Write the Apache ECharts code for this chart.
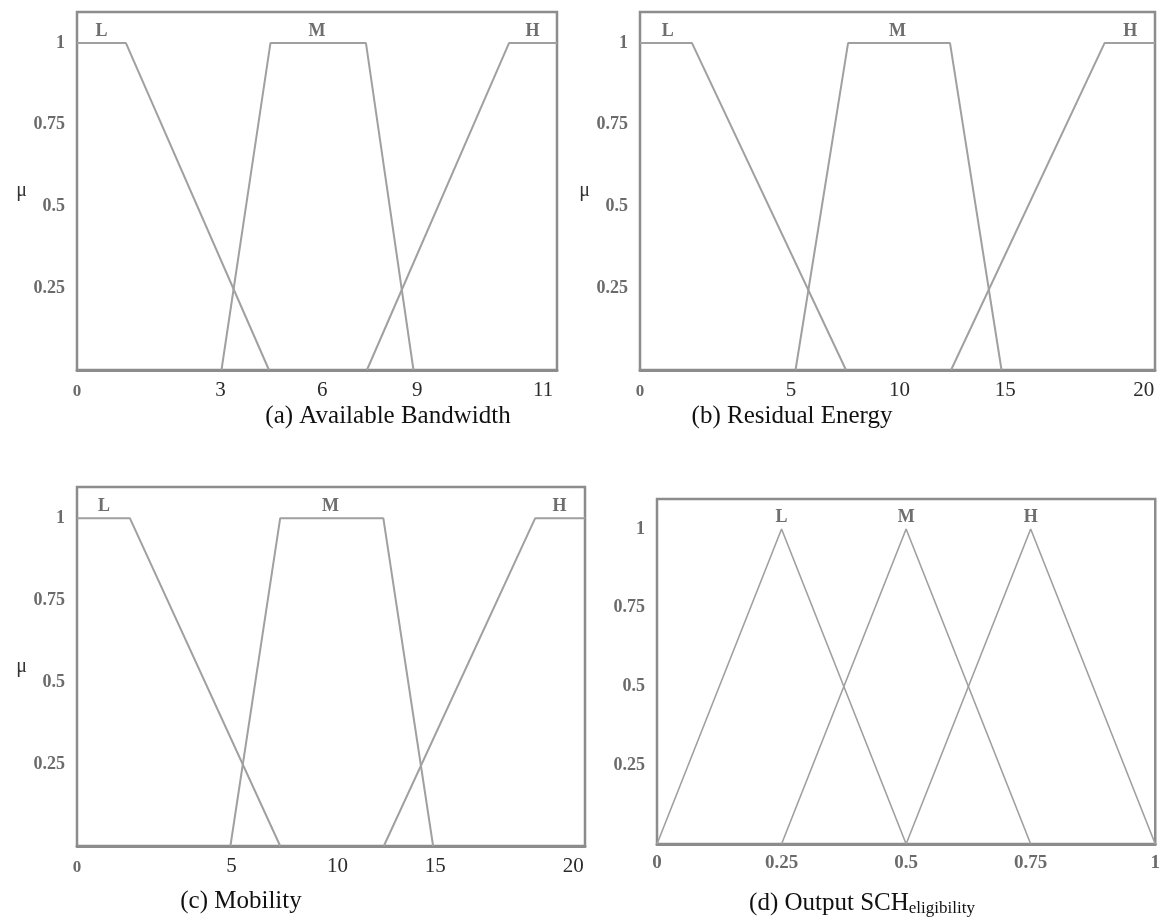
<!DOCTYPE html>
<html>
<head>
<meta charset="utf-8">
<script src="https://cdn.jsdelivr.net/npm/echarts@6/dist/echarts.min.js"></script>
<style>
html, body { margin: 0; padding: 0; background: #fff; }
#fuzzy { width: 1163px; height: 917px; }
</style>
</head>
<body>
<div id="fuzzy"></div>
<script>
// x of the three input panels is read as % of the plot width (their tick labels are not evenly spaced)
const bwTickLabels = ['0', '3', '6', '9', '11'];
const bwTickAt = [0, 29.9, 51.1, 70.9, 97.1];
const bwLow = [[0, 1], [10.2, 1], [40.0, 0]];
const bwMid = [[30.1, 0], [40.3, 1], [60.2, 1], [70.1, 0]];
const bwHigh = [[60.4, 0], [90.0, 1], [100, 1]];
const bwTerms = [[5.1, 1, 'L'], [50, 1, 'M'], [94.9, 1, 'H']];

const reTickLabels = ['0', '5', '10', '15', '20'];
const reTickAt = [0, 29.3, 50.4, 70.9, 97.8];
const reLow = [[0, 1], [10.1, 1], [40.0, 0]];
const reMid = [[30.2, 0], [40.4, 1], [60.2, 1], [70.2, 0]];
const reHigh = [[60.4, 0], [90.2, 1], [100, 1]];
const reTerms = [[5.4, 1, 'L'], [50, 1, 'M'], [95.2, 1, 'H']];

const moTickLabels = ['0', '5', '10', '15', '20'];
const moTickAt = [0, 30.4, 51.3, 70.5, 97.7];
const moLow = [[0, 1], [10.4, 1], [40.0, 0]];
const moMid = [[30.2, 0], [40.0, 1], [60.3, 1], [70.1, 0]];
const moHigh = [[60.4, 0], [90.2, 1], [100, 1]];
const moTerms = [[5.3, 1, 'L'], [49.9, 1, 'M'], [95.0, 1, 'H']];

const outTicks = [0, 0.25, 0.5, 0.75, 1];
const outLow = [[0, 0], [0.25, 1], [0.5, 0]];
const outMid = [[0.25, 0], [0.5, 1], [0.75, 0]];
const outHigh = [[0.5, 0], [0.75, 1], [1, 0]];
const outTerms = [[0.25, 1, 'L'], [0.5, 1, 'M'], [0.75, 1, 'H']];

const muTicks = [0.25, 0.5, 0.75, 1];
const captions = ['(a) Available Bandwidth', '(b) Residual Energy', '(c) Mobility', '(d) Output SCH{sub|eligibility}'];

const serif = '"Liberation Serif", "DejaVu Serif", serif';
const lineGrey = '#a0a0a0';
const boxGrey = '#8c8c8c';

const grids = [
  { left: 77, top: 12, width: 480, height: 358 },
  { left: 640, top: 12, width: 515, height: 358 },
  { left: 77, top: 487, width: 508, height: 359 },
  { left: 657, top: 499, width: 502, height: 345 }
];

function boldGrey(size) {
  return { fontFamily: serif, fontWeight: 'bold', fontSize: size, color: '#6b6b6b' };
}

function inputXAxis(i, labels, at) {
  return {
    type: 'value', gridIndex: i, min: 0, max: 100,
    splitLine: { show: false },
    axisLine: { show: true, lineStyle: { color: boxGrey, width: 3 } },
    axisTick: { show: false },
    axisLabel: {
      customValues: at,
      margin: 10,
      formatter: function (v) {
        const k = at.indexOf(v);
        const t = k < 0 ? '' : labels[k];
        return t === '0' ? '{z|0}' : '{n|' + t + '}';
      },
      rich: {
        z: Object.assign({ padding: [3, 0, 0, 0] }, boldGrey(17)),
        n: { fontFamily: serif, fontSize: 21, color: '#2b2b2b' }
      }
    }
  };
}

function muYAxis(i, withName) {
  return {
    type: 'value', gridIndex: i, min: 0, max: 1.095,
    splitLine: { show: false },
    axisLine: { show: false },
    axisTick: { show: false },
    name: withName ? 'μ' : '',
    nameLocation: 'middle',
    nameRotate: 0,
    nameGap: 50,
    nameTextStyle: { fontFamily: serif, fontSize: 20, color: '#333' },
    axisLabel: Object.assign({ customValues: muTicks, margin: 12 }, boldGrey(18))
  };
}

function mf(name, i, data, w) {
  return {
    name: name, type: 'line', xAxisIndex: i, yAxisIndex: i, data: data,
    symbol: 'none', silent: true,
    lineStyle: { color: lineGrey, width: w }
  };
}

function terms(i, data) {
  return {
    type: 'scatter', xAxisIndex: i, yAxisIndex: i, data: data,
    symbolSize: 0, silent: true,
    label: {
      show: true, position: 'top', distance: 3,
      formatter: function (p) { return p.value[2]; },
      fontFamily: serif, fontWeight: 'bold', fontSize: 18, color: '#4a4a4a'
    }
  };
}

const captionAt = [[388, 404], [792, 404], [241, 889], [862, 889]];

const chart = echarts.init(document.getElementById('fuzzy'));
chart.setOption({
  animation: false,
  backgroundColor: '#fff',
  grid: grids.map(function (g) {
    return Object.assign({ show: true, borderColor: boxGrey, borderWidth: 2.5, backgroundColor: '#fff' }, g);
  }),
  xAxis: [
    inputXAxis(0, bwTickLabels, bwTickAt),
    inputXAxis(1, reTickLabels, reTickAt),
    inputXAxis(2, moTickLabels, moTickAt),
    {
      type: 'value', gridIndex: 3, min: 0, max: 1,
      splitLine: { show: false },
      axisLine: { show: true, lineStyle: { color: boxGrey, width: 3 } },
      axisTick: { show: false },
      axisLabel: Object.assign({ customValues: outTicks, margin: 10 }, boldGrey(19))
    }
  ],
  yAxis: [muYAxis(0, true), muYAxis(1, true), muYAxis(2, true), muYAxis(3, false)],
  series: [
    mf('L', 0, bwLow, 2), mf('M', 0, bwMid, 2), mf('H', 0, bwHigh, 2), terms(0, bwTerms),
    mf('L', 1, reLow, 2), mf('M', 1, reMid, 2), mf('H', 1, reHigh, 2), terms(1, reTerms),
    mf('L', 2, moLow, 2), mf('M', 2, moMid, 2), mf('H', 2, moHigh, 2), terms(2, moTerms),
    mf('L', 3, outLow, 1.6), mf('M', 3, outMid, 1.6), mf('H', 3, outHigh, 1.6), terms(3, outTerms)
  ],
  graphic: captions.map(function (c, i) {
    return {
      type: 'text', x: captionAt[i][0], y: captionAt[i][1], silent: true,
      style: {
        text: c, align: 'center', verticalAlign: 'top',
        font: '25px ' + serif, fill: '#111',
        rich: { sub: { font: '17px ' + serif, fill: '#111', padding: [11, 0, 0, 0] } }
      }
    };
  })
});
</script>
</body>
</html>
